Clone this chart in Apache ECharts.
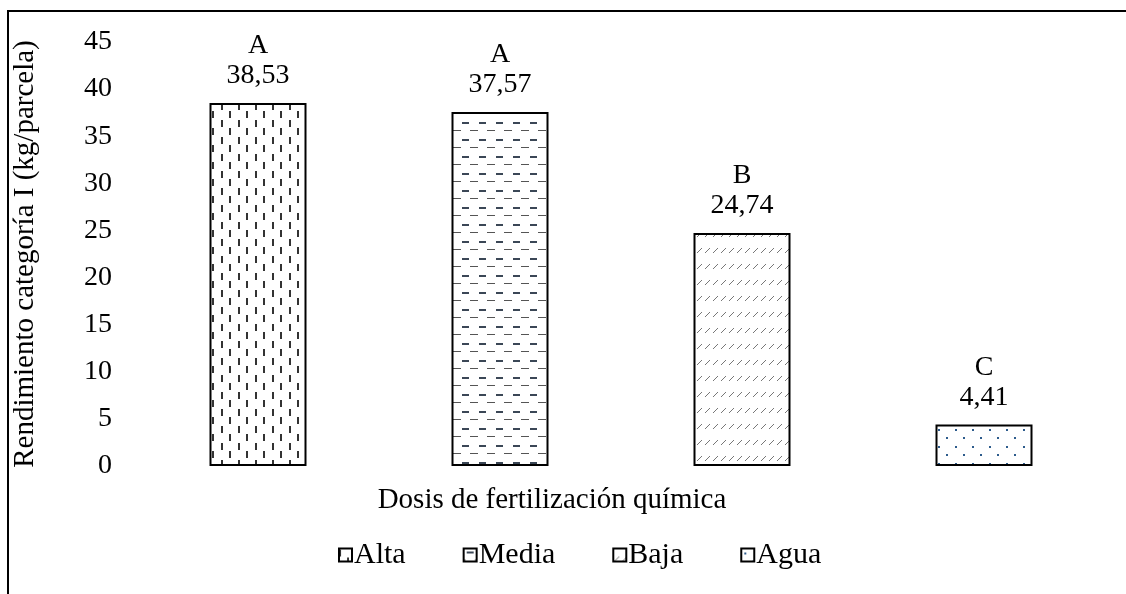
<!DOCTYPE html>
<html>
<head>
<meta charset="utf-8">
<script src="https://cdn.jsdelivr.net/npm/echarts@6/dist/echarts.min.js"></script>
<style>
  html, body { margin: 0; padding: 0; background: #fff; }
  #main { width: 1126px; height: 594px; }
</style>
</head>
<body>
<div id="main"></div>
<script>
// data
var categories = ['Alta', 'Media', 'Baja', 'Agua'];
var values = [38.53, 37.57, 24.74, 4.41];
var letters = ['A', 'A', 'B', 'C'];
var yTicks = [0, 45, 5];   // min, max, interval

var FONT = 'Liberation Serif';
var FS = 28;

function tile(w, h, draw) {
  var c = document.createElement('canvas');
  c.width = w; c.height = h;
  var ctx = c.getContext('2d');
  ctx.fillStyle = '#fff';
  ctx.fillRect(0, 0, w, h);
  draw(ctx);
  return { image: c, repeat: 'repeat' };
}

// vertical dashes
var patAlta = tile(17, 17, function (ctx) {
  ctx.fillStyle = '#333';
  ctx.fillRect(0, 1, 2, 7);
  ctx.fillRect(8, 9, 2, 7);
});
// horizontal dashes
var patMedia = tile(17, 17, function (ctx) {
  ctx.fillStyle = '#3b4756';
  ctx.fillRect(3, 3, 7, 2);
  ctx.fillStyle = '#555';
  ctx.fillRect(11, 11, 7, 1);
  ctx.fillRect(0, 11, 2, 1);
});
// small slashes
var patBaja = tile(8, 16, function (ctx) {
  ctx.strokeStyle = '#777';
  ctx.lineWidth = 1;
  ctx.beginPath();
  ctx.moveTo(1, 13);
  ctx.lineTo(6, 8);
  ctx.stroke();
});
// dots
var patAgua = tile(17, 17, function (ctx) {
  ctx.fillStyle = '#2d5b8c';
  ctx.fillRect(3, 4, 2, 2);
  ctx.fillRect(11, 12, 2, 2);
});
var patterns = [patAlta, patMedia, patBaja, patAgua];

function fmt(v) { return v.toFixed(2).replace('.', ','); }

var series = categories.map(function (name, i) {
  var data = categories.map(function (c, j) { return j === i ? values[i] : '-'; });
  return {
    name: name,
    type: 'bar',
    stack: 'all',
    barWidth: 97,
    data: data,
    itemStyle: { color: patterns[i], borderColor: '#000', borderWidth: 2 },
    label: {
      show: true,
      position: 'top',
      distance: 12,
      formatter: function () { return '{l|' + letters[i] + '}\n{v|' + fmt(values[i]) + '}'; },
      rich: {
        l: { fontFamily: FONT, fontSize: FS, color: '#000', lineHeight: 30 },
        v: { fontFamily: FONT, fontSize: FS, color: '#000', lineHeight: 30 }
      }
    }
  };
});

var chart = echarts.init(document.getElementById('main'));
chart.setOption({
  backgroundColor: '#fff',
  animation: false,
  textStyle: { fontFamily: FONT, color: '#000' },
  graphic: [{
    type: 'rect',
    shape: { x: 8, y: 11, width: 1200, height: 700 },
    style: { fill: null, stroke: '#000', lineWidth: 2 },
    silent: true
  }],
  title: {
    text: 'Dosis de fertilización química',
    left: 547, top: 481, textAlign: 'center',
    textStyle: { fontFamily: FONT, fontSize: 29, fontWeight: 'normal', color: '#000' }
  },
  legend: {
    left: 333, top: 535,
    itemWidth: 13, itemHeight: 13, itemGap: 57,
    icon: 'rect',
    textStyle: { fontFamily: FONT, fontSize: 30, color: '#000', padding: [0, 0, 0, -3] },
    data: categories
  },
  grid: { left: 137, right: 21, top: 42, bottom: 128, outerBoundsMode: 'none' },
  xAxis: {
    type: 'category',
    data: categories,
    axisLine: { show: false },
    axisTick: { show: false },
    axisLabel: { show: false }
  },
  yAxis: {
    type: 'value',
    min: yTicks[0], max: yTicks[1], interval: yTicks[2],
    name: 'Rendimiento categoría I (kg/parcela)',
    nameLocation: 'middle',
    nameGap: 97,
    nameRotate: 90,
    nameTextStyle: { fontFamily: FONT, fontSize: 29, color: '#000' },
    axisLine: { show: false },
    axisTick: { show: false },
    splitLine: { show: false },
    axisLabel: { fontFamily: FONT, fontSize: FS, color: '#000', margin: 25 }
  },
  series: series
});
</script>
</body>
</html>
